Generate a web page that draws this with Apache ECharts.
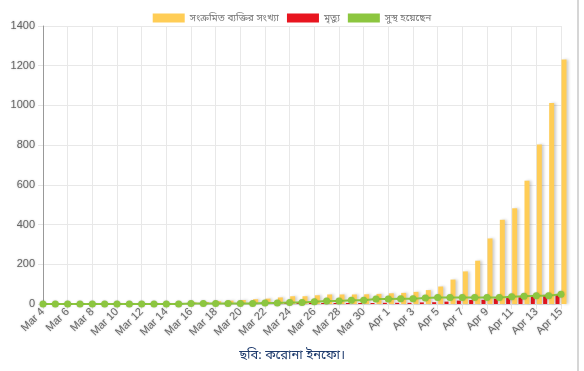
<!DOCTYPE html>
<html>
<head>
<meta charset="utf-8">
<script src="https://cdn.jsdelivr.net/npm/echarts@6/dist/echarts.min.js"></script>
<style>
html,body{margin:0;padding:0;background:#fff;}
#chart{width:584px;height:371px;}
</style>
</head>
<body>
<div id="chart"></div>
<script>
var categories = ["Mar 4","Mar 5","Mar 6","Mar 7","Mar 8","Mar 9","Mar 10","Mar 11","Mar 12","Mar 13","Mar 14","Mar 15","Mar 16","Mar 17","Mar 18","Mar 19","Mar 20","Mar 21","Mar 22","Mar 23","Mar 24","Mar 25","Mar 26","Mar 27","Mar 28","Mar 29","Mar 30","Mar 31","Apr 1","Apr 2","Apr 3","Apr 4","Apr 5","Apr 6","Apr 7","Apr 8","Apr 9","Apr 10","Apr 11","Apr 12","Apr 13","Apr 14","Apr 15"];
var confirmed = [0,0,0,0,3,3,3,3,3,3,3,5,8,10,14,17,20,24,27,33,39,39,44,48,48,48,49,51,54,56,61,70,88,123,164,218,330,424,482,621,803,1012,1231];
var deaths = [0,0,0,0,0,0,0,0,0,0,0,0,0,0,1,1,1,2,2,3,4,5,5,5,5,5,5,5,6,6,6,8,9,12,17,20,21,27,30,34,39,46,50];
var recovered = [0,0,0,0,0,0,0,0,0,0,0,0,3,3,3,3,3,3,5,5,7,7,11,15,15,19,19,25,25,26,26,30,33,33,33,33,33,33,36,39,42,42,49];
var seriesNames = ["সংক্রমিত ব্যক্তির সংখ্যা","মৃত্যু","সুস্থ হয়েছেন"];
var caption = "ছবি: করোনা ইনফো।";

var chart = echarts.init(document.getElementById('chart'), null, {renderer:'canvas'});
var font = "'Noto Sans','Noto Sans Bengali','Liberation Sans',sans-serif";
var axFont = "'Liberation Sans',Arial,sans-serif";
chart.setOption({
  animation:false,
  backgroundColor:'#fff',
  legend:{
    data:seriesNames,
    top:8, left:'center',
    itemWidth:32, itemHeight:9, itemGap:8,
    icon:'rect',
    textStyle:{fontSize:10,color:'#777',fontFamily:font}
  },
  grid:{left:43,right:23,top:26,bottom:67,containLabel:false},
  xAxis:{
    type:'category',
    data:categories,
    boundaryGap:false,
    axisLine:{show:true,lineStyle:{color:'#ddd'}},
    axisTick:{show:true,interval:1,length:5,lineStyle:{color:'#e5e5e5'}},
    axisLabel:{interval:1,rotate:45,fontSize:11,color:'#666',margin:6,fontFamily:axFont,
      textShadowColor:'rgba(0,0,0,0.25)',textShadowBlur:2},
    splitLine:{show:true,interval:1,lineStyle:{color:'#e8e8e8'}}
  },
  yAxis:{
    type:'value',min:0,max:1400,interval:200,
    axisLine:{show:true,lineStyle:{color:'#999'}},
    axisTick:{show:true,length:5,lineStyle:{color:'#e5e5e5'}},
    axisLabel:{fontSize:11,color:'#666',margin:8,fontFamily:axFont,
      formatter:function(v){return String(v);},
      textShadowColor:'rgba(0,0,0,0.25)',textShadowBlur:2},
    splitLine:{show:true,lineStyle:{color:'#e8e8e8'}}
  },
  series:[
    {name:seriesNames[1],type:'bar',data:deaths,barWidth:4,barGap:'50%',
      itemStyle:{color:'#e8151f',shadowColor:'rgba(0,0,0,0.2)',shadowBlur:3,shadowOffsetX:2},z:2},
    {name:seriesNames[0],type:'bar',data:confirmed,barWidth:5,
      itemStyle:{color:'#ffcd56',shadowColor:'rgba(0,0,0,0.2)',shadowBlur:3,shadowOffsetX:2},z:2},
    {name:seriesNames[2],type:'line',data:recovered,symbol:'circle',symbolSize:7,
      lineStyle:{color:'#8cc63f',width:2},
      itemStyle:{color:'#8cc63f',shadowColor:'rgba(0,0,0,0.2)',shadowBlur:2},z:3}
  ],
  color:['#ffcd56','#e8151f','#8cc63f'],
  graphic:[
    {type:'text',left:'center',top:349,style:{text:caption,fontSize:13,fill:'#1f3c6e',fontFamily:font}},
    {type:'rect',shape:{x:577,y:0,width:2,height:371},style:{fill:'#d6d6d6'}}
  ]
});
</script>
</body>
</html>
